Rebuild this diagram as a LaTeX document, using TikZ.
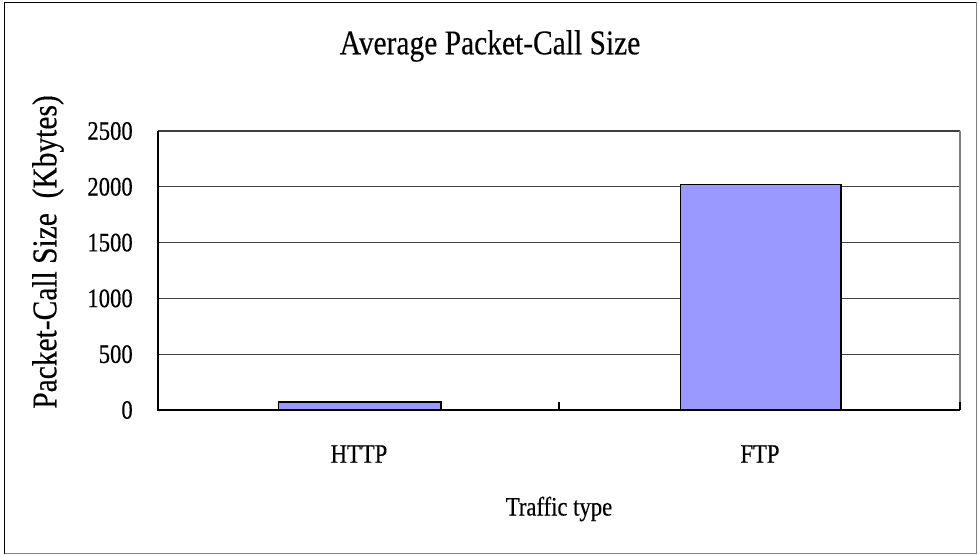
\documentclass[tikz,border=0pt]{standalone}
\usepackage{graphicx}
\usepackage{fontspec}
\setmainfont{Liberation Serif}
\definecolor{barfill}{HTML}{9999FF}
\definecolor{gridc}{HTML}{404040}
\definecolor{edgec}{HTML}{808080}
\newcommand{\cond}[1]{\scalebox{0.85}[1]{#1}}
\tikzset{
  lbl/.style={inner sep=0pt, font=\fontsize{20}{24}\selectfont\addfontfeature{FakeBold=0.4}},
  big/.style={inner sep=0pt, font=\fontsize{26}{30}\selectfont\addfontfeature{FakeBold=0.3}},
  bar/.style={draw=black, line width=1.3pt, fill=barfill},
  gridline/.style={draw=gridc, line width=0.9pt},
}
\begin{document}
\begin{tikzpicture}[x=0.75pt, y=-0.75pt]
\useasboundingbox (0,0) rectangle (979,556);
\fill[white] (0,0) rectangle (979,556);
% outer frame
\draw[black, line width=1pt] (4.5,553.5) -- (4.5,2.5) -- (976.5,2.5);
\draw[edgec, line width=1pt] (976.5,2.5) -- (976.5,553.5) -- (4.5,553.5);
% title
\node[big] (title) at (490,46) {\cond{Average Packet-Call Size}};
% grid
\foreach \yy in {131,186.8,242.6,298.4,354.2} \draw[gridline] (158,\yy) -- (960,\yy);
\draw[edgec, line width=1pt] (960,131) -- (960,410);
% bars
\draw[bar] (278.5,410) rectangle (441,402.3);
\draw[bar] (680.5,410) rectangle (841,184.5);
% axes
\draw[black, line width=1.3pt] (158,131) -- (158,410) -- (960,410);
\foreach \xx in {559,960} \draw[black, line width=1.1pt] (\xx,410) -- (\xx,402);
% y tick labels
\foreach \v/\yy in {0/410,500/354.2,1000/298.4,1500/242.6,2000/186.8,2500/131}
  \node[lbl, anchor=east] (t\v) at (133,\yy) {\cond{\v}};
% axis labels
\node[big, rotate=90] (ylab) at (48,252) {\cond{Packet-Call Size\ \ (Kbytes)}};
\node[lbl] (c1) at (359,454) {\cond{HTTP}};
\node[lbl] (c2) at (760,454) {\cond{FTP}};
\node[lbl] (xlab) at (559,509) {\cond{Traffic type}};
\end{tikzpicture}
\end{document}
